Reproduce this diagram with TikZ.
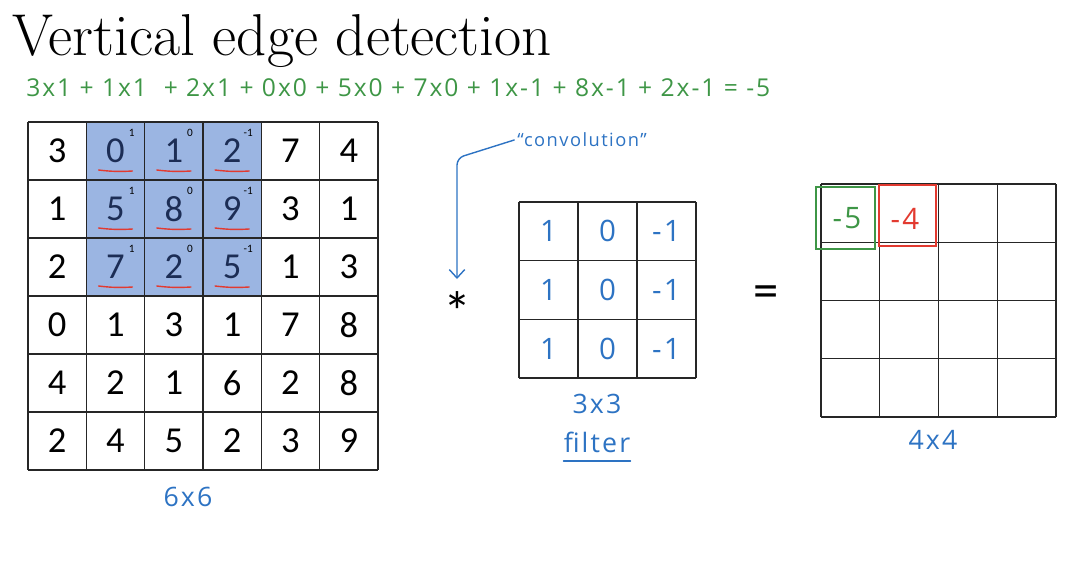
\documentclass[tikz,border=0pt]{standalone}
\usepackage{fontspec}
\newfontfamily\cellfont{Carlito}
\newfontfamily\handfont[LetterSpace=8]{Open Sans}
\usetikzlibrary{arrows.meta,positioning}

\definecolor{hlfill}{RGB}{155,181,226}
\definecolor{navy}{RGB}{28,45,85}
\definecolor{handblue}{RGB}{45,115,195}
\definecolor{handgreen}{RGB}{62,150,70}
\definecolor{handred}{RGB}{226,58,48}

\tikzset{
  cellline/.style={draw=black!85,line width=0.9pt},
  num/.style={font=\cellfont\fontsize{26}{30}\selectfont,text=black,inner sep=0pt},
  hlnum/.style={num,text=navy},
  wsup/.style={font=\cellfont\fontsize{8}{9}\selectfont,inner sep=0pt},
  hand/.style={font=\handfont\fontsize{14}{17}\selectfont,text=handblue,inner sep=0pt},
  handline/.style={draw=handblue,line width=1pt,line cap=round},
  redline/.style={draw=handred,line width=1pt,line cap=round}
}

\begin{document}
\begin{tikzpicture}[x=0.025cm,y=-0.025cm]
\useasboundingbox (0,0) rectangle (1079,568);

% Title and worked sum
\node[anchor=base west,inner sep=0pt,font=\fontsize{42}{48}\selectfont] (title) at (12,55) {Vertical edge detection};
\node[anchor=base west,hand,text=handgreen,font=\handfont\fontsize{17.5}{21}\selectfont] (sum) at (26,96)
  {3x1 + 1x1 \ + 2x1 + 0x0 + 5x0 + 7x0 + 1x-1 + 8x-1 + 2x-1 = -5};

% 6x6 image
\fill[hlfill] (86.33,122) rectangle (261,296);
\foreach \k in {0,...,6} {
  \draw[cellline] ({28+58.33*\k},122) -- ({28+58.33*\k},470);
  \draw[cellline] (28,{122+58*\k}) -- (378,{122+58*\k});
}
\foreach \row [count=\i from 0] in {{3,0,1,2,7,4},{1,5,8,9,3,1},{2,7,2,5,1,3},{0,1,3,1,7,8},{4,2,1,6,2,8},{2,4,5,2,3,9}} {
  \foreach \v [count=\j from 0] in \row {
    \pgfmathtruncatemacro\hl{and(\i<3,and(\j>0,\j<4))}
    \ifnum\hl=1 \def\st{hlnum}\else\def\st{num}\fi
    \node[style=\st] (a-\i-\j) at ({28+58.33*(\j+0.5)},{122+58*(\i+0.5)}) {\v};
  }
}
% filter weights and underlines
\foreach \c/\w in {1/1,2/0,3/-1} {
  \foreach \r in {0,1,2} {
    \node[wsup] (w-\r-\c) at ({28+58.33*(\c+1)-13},{122+58*\r+11}) {\w};
    \draw[redline] ([shift={(-17,19)}]a-\r-\c.center) to[bend right=5] ([shift={(17,20)}]a-\r-\c.center);
  }
}
\node[hand,font=\handfont\fontsize{19}{22}\selectfont] (size6) at (188,497) {6x6};

% operator
\node[font=\cellfont\fontsize{40}{44}\selectfont,inner sep=0pt] (star) at (458,312) {*};
\node[hand,font=\handfont\fontsize{13}{16}\selectfont] (conv) at (582,140) {“convolution”};
\coordinate (corner) at (457,158);
\draw[handline,-{Straight Barb[length=6pt,width=11pt]},rounded corners=5] ([xshift=-2pt]conv.west) -- (corner) -- (457,279);

% 3x3 filter
\foreach \k in {0,...,3} {
  \draw[cellline] ({519+59*\k},202) -- ({519+59*\k},378);
  \draw[cellline] (519,{202+58.67*\k}) -- (696,{202+58.67*\k});
}
\foreach \r in {0,1,2} {
  \foreach \c/\v in {0/1,1/0,2/-1} {
    \node[hand,font=\handfont\fontsize{21}{24}\selectfont] (f-\r-\c) at ({519+59*(\c+0.5)},{202+58.67*(\r+0.5)}) {\v};
  }
}
\node[hand,font=\handfont\fontsize{19}{22}\selectfont] (size3) at (597,404) {3x3};
\node[hand,font=\handfont\fontsize{19}{22}\selectfont] (filt) at (597,442) {filter};
\draw[handline] ([yshift=-6pt]filt.south west) -- ([yshift=-6pt]filt.south east);

% equals and 4x4 output
\node[font=\cellfont\fontsize{36}{40}\selectfont,inner sep=0pt] (eq) at (766,297) {=};
\foreach \k in {0,...,4} {
  \draw[cellline] ({821+58.75*\k},184) -- ({821+58.75*\k},417);
  \draw[cellline] (821,{184+58.25*\k}) -- (1056,{184+58.25*\k});
}
\node[hand,text=handgreen,font=\handfont\fontsize{21}{24}\selectfont] (o-0-0) at (847,218) {-5};
\node[hand,text=handred,font=\handfont\fontsize{21}{24}\selectfont] (o-0-1) at (905,219) {-4};
\draw[draw=handgreen,line width=1pt] (816,187) rectangle (875,249);
\draw[draw=handred,line width=1pt] (879,185) rectangle (936,246);
\node[hand,font=\handfont\fontsize{19}{22}\selectfont] (size4) at (933,440) {4x4};
\end{tikzpicture}
\end{document}
